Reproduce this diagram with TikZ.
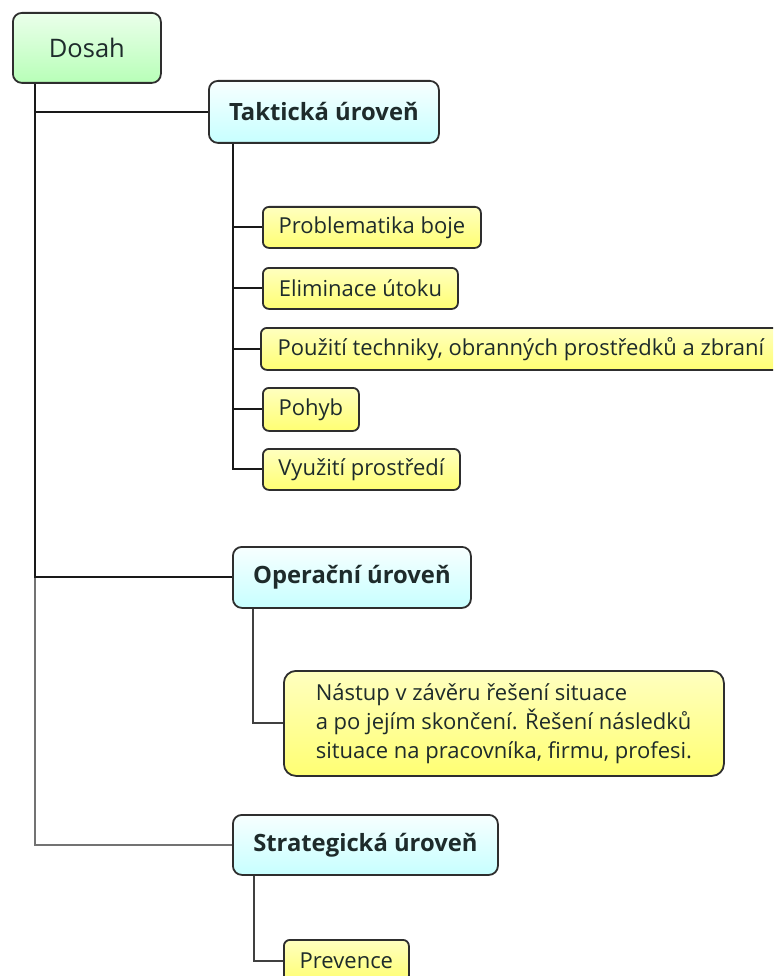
\documentclass[tikz,border=0pt]{standalone}
\usepackage{fontspec}
\setmainfont{Open Sans}
\definecolor{txt}{HTML}{1E2B2B}
\definecolor{edge}{HTML}{2E2E2E}
\tikzset{
  every picture/.style={
    line width=1.8pt
  },
  box/.style={
    draw=edge, inner sep=0pt, anchor=north west, text=txt
  },
  root/.style={
    box, rounded corners=9pt,
    top color=green!8!white, bottom color=green!28!white,
    font=\fontsize{25.5}{30}\selectfont
  },
  level/.style={
    box, rounded corners=9pt,
    top color=cyan!3!white, bottom color=cyan!22!white,
    font=\bfseries\fontsize{23.8}{28}\selectfont
  },
  leaf/.style={
    box, rounded corners=6pt,
    top color=yellow!25!white, bottom color=yellow!55!white,
    font=\fontsize{22}{26}\selectfont
  },
  branch/.style={
    draw=black!90, line width=2pt
  }
}

\begin{document}
\begin{tikzpicture}[x=1pt,y=-1pt]
  \useasboundingbox (0,0) rectangle (773,976);
  \clip (0,0) rectangle (773,976);

  \node[root, minimum width=148, minimum height=70] (dosah) at (12,12) {Dosah};

  \node[level, minimum width=230, minimum height=62] (takt) at (208,80) {Taktická úroveň};
  \node[leaf, minimum width=218, minimum height=41] (problem) at (262,206) {Problematika boje};
  \node[leaf, minimum width=195, minimum height=41] (elim) at (262,267) {Eliminace útoku};
  \node[leaf, minimum width=520, minimum height=42] (pouziti) at (260,327)
    {Použití techniky, obranných prostředků a zbraní};
  \node[leaf, minimum width=96, minimum height=43] (pohyb) at (262,387) {Pohyb};
  \node[leaf, minimum width=197, minimum height=41] (vyuziti) at (262,448) {Využití prostředí};

  \node[level, minimum width=238, minimum height=61] (oper) at (232,546) {Operační úroveň};
  \node[leaf, rounded corners=12pt, minimum width=440, minimum height=105, align=left,
    font=\fontsize{22}{29}\selectfont] (nastup) at (283,670)
    {Nástup v závěru řešení situace\\
     a po jejím skončení. Řešení následků\\
     situace na pracovníka, firmu, profesi.};

  \node[level, minimum width=265, minimum height=60] (strat) at (232,814) {Strategická úroveň};
  \node[leaf, minimum width=125, minimum height=42] (prevence) at (283,939) {Prevence};

  % connectors
  \coordinate (trunk) at ([xshift=23pt]dosah.south west);
  \draw[branch, draw=black!55] (trunk) |- (strat.west);
  \draw[branch] (trunk) |- (takt.west);
  \draw[branch] (trunk) |- (oper.west);

  \coordinate (tk) at ([xshift=25pt]takt.south west);
  \foreach \n in {problem,elim,pouziti,pohyb,vyuziti}
    \draw[branch] (tk) |- (\n.west);

  \coordinate (op) at ([xshift=21pt]oper.south west);
  \draw[branch, draw=black!75] (op) |- (nastup.west);

  \coordinate (st) at ([xshift=22pt]strat.south west);
  \draw[branch, draw=black!75] (st) |- (prevence.west);
\end{tikzpicture}
\end{document}
